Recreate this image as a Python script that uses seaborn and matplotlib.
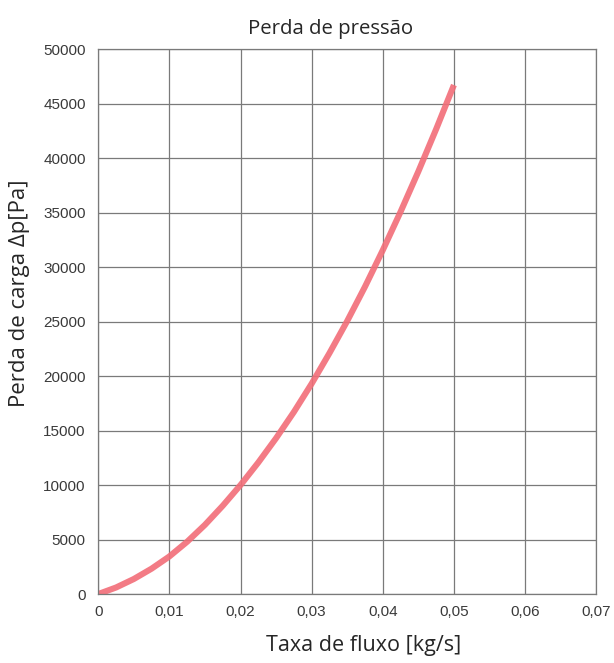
import pandas as pd
import matplotlib
matplotlib.use('Agg')
import matplotlib.pyplot as plt
import seaborn as sns

# Values
flow = [0, 0.0025, 0.005, 0.0075, 0.01, 0.0125, 0.015, 0.0175, 0.02, 0.0225, 0.025,
        0.0275, 0.03, 0.0325, 0.035, 0.0375, 0.04, 0.0425, 0.045, 0.0475, 0.05]
pressure_drop = [0, 600, 1380, 2330, 3450, 4800, 6350, 8100, 10000, 12070, 14300,
                 16700, 19300, 22100, 25050, 28200, 31550, 35070, 38770, 42650, 46700]

x_ticks = [0, 0.01, 0.02, 0.03, 0.04, 0.05, 0.06, 0.07]
x_tick_labels = ['0', '0,01', '0,02', '0,03', '0,04', '0,05', '0,06', '0,07']
y_ticks = [0, 5000, 10000, 15000, 20000, 25000, 30000, 35000, 40000, 45000, 50000]

df = pd.DataFrame({'flow': flow, 'dp': pressure_drop})

sns.set_style('white')
plt.rcParams['font.family'] = ['Liberation Sans', 'DejaVu Sans']
label_font = ['Open Sans', 'DejaVu Sans']

fig = plt.figure(figsize=(6.14, 6.63), dpi=100)
ax = fig.add_axes([0.160, 0.104, 0.811, 0.822])

# Plot the curve
sns.lineplot(data=df, x='flow', y='dp', ax=ax, color='#f26d78', linewidth=4.4,
             alpha=0.9, solid_capstyle='butt')

ax.set_xlim(0, 0.07)
ax.set_ylim(0, 50000)
ax.set_xticks(x_ticks)
ax.set_xticklabels(x_tick_labels)
ax.set_yticks(y_ticks)
ax.set_yticklabels([str(v) for v in y_ticks])
ax.tick_params(axis='both', length=0, labelsize=11, labelcolor='#3a3a3a')
ax.tick_params(axis='x', pad=8)
ax.tick_params(axis='y', pad=9)

# Grid and frame
ax.grid(True, color='#7a7a7a', linewidth=0.9)
for side in ax.spines.values():
    side.set_color('#7a7a7a')
    side.set_linewidth(0.9)

# Title and labels
title = ax.set_title('Perda de pressão', fontsize=14.7, family=label_font, pad=10.5)
title.set_x(0.466)
ax.set_xlabel('Taxa de fluxo [kg/s]', fontsize=15.5, family=label_font)
ax.set_ylabel('Perda de carga Δp[Pa]', fontsize=16, family=label_font)
ax.xaxis.label.set_va('center')
ax.yaxis.label.set_va('center')
ax.xaxis.set_label_coords(0.532, -0.094)
ax.yaxis.set_label_coords(-0.159, 0.552)

fig.savefig('out.png', dpi=100)
